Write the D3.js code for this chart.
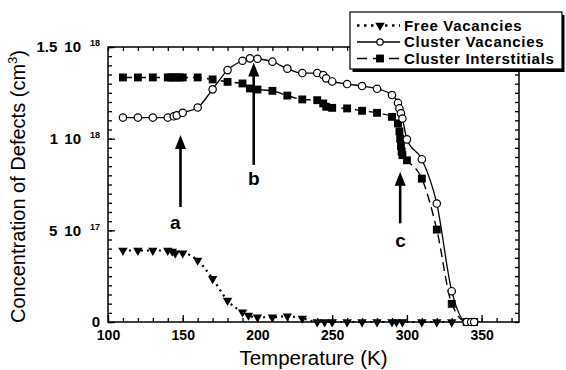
<!DOCTYPE html>
<html>
<head>
<meta charset="utf-8">
<script src="https://cdn.jsdelivr.net/npm/d3@7"></script>
<style>
body { margin: 0; background: #fff; }
svg { display: block; font-family: "Liberation Sans", Arial, sans-serif; }
</style>
</head>
<body>
<svg id="drawing_region"></svg>
<script>
// temperatures (K) and concentrations (units of 1e17 cm^-3)
var freeT = [110,120,130,140,143,145,150,160,170,180,190,194,200,210,220,230,240,245,250,260,270,280,290,293,297,310,320,330];
var freeV = [3.9,3.9,3.9,3.9,3.85,3.75,3.75,3.36,2.36,1.17,0.54,0.36,0.26,0.26,0.32,0.2,0,0,0,0,0,0,0,0,0,0,0,0];

var vacT = [110,120,130,140,144,146,150,160,170,180,190,195,200,210,220,230,240,244,246,250,260,270,280,290,294,295,296,297,300,310,320,330,340,343,345];
var vacV = [11.15,11.15,11.15,11.15,11.22,11.27,11.41,11.7,12.69,13.74,14.25,14.38,14.36,14.2,13.82,13.58,13.58,13.47,13.29,13.12,12.98,12.87,12.72,12.38,11.95,11.65,11.38,11.1,9.96,8.88,6.46,1.68,0,0,0];

var intT = [110,120,130,140,142,144,146,148,150,160,170,180,190,195,200,210,220,230,240,244,246,250,260,270,280,290,294,295,295.5,296,296.5,297,300,310,320,330,340,343,345];
var intV = [13.34,13.34,13.34,13.34,13.34,13.34,13.34,13.34,13.34,13.34,13.23,13.1,13.01,12.74,12.68,12.61,12.35,12.14,12.1,11.92,11.74,11.68,11.65,11.52,11.41,11.19,10.83,10.4,10.0,9.6,9.3,9.1,8.82,7.82,5.04,0.99,0,0,0];

var xMajor = [100,150,200,250,300,350];
var yMajor = [0,5,10,15];
var yTickMant = ['0','5','1','1.5'];
var yTickExp = ['','17','18','18'];

var seriesNames = ['Free Vacancies','Cluster Vacancies','Cluster Interstitials'];

// arrows a, b, c
var arrowLabel = ['a','b','c'];
var arrowT = [148.5,197.5,295.5];
var arrowTail = [6.27,8.57,5.38];
var arrowHead = [10.2,14.15,8.2];
var labelT = [145,197.5,295.8];
var labelV = [5.44,7.85,4.47];

var margin = { top: 47, right: 47, bottom: 48, left: 108 };
var width = 566 - margin.left - margin.right;
var height = 370 - margin.top - margin.bottom;

var root = d3.select('#drawing_region')
    .attr('width', 566)
    .attr('height', 370);

var svg = root.append('g')
    .attr('transform', 'translate(' + margin.left + ',' + margin.top + ')');

var xScale = d3.scaleLinear().domain([100, 375]).range([0, width]);
var yScale = d3.scaleLinear().domain([0, 15]).range([height, 0]);

// frame
svg.append('rect')
    .attr('width', width)
    .attr('height', height)
    .attr('fill', 'none')
    .attr('stroke', '#000')
    .attr('stroke-width', 1.5);

function styleAxis(g) {
    g.select('.domain').remove();
    g.selectAll('.tick line').attr('stroke', '#000').attr('stroke-width', 1.3);
}

// minor ticks
svg.append('g')
    .attr('transform', 'translate(0,' + height + ')')
    .call(d3.axisBottom(xScale).tickValues(d3.range(100, 371, 10)).tickSize(-4).tickFormat(''))
    .call(styleAxis);
svg.append('g')
    .call(d3.axisTop(xScale).tickValues(d3.range(100, 371, 10)).tickSize(-4).tickFormat(''))
    .call(styleAxis);
svg.append('g')
    .call(d3.axisLeft(yScale).tickValues(d3.range(0, 15.01, 0.5)).tickSize(-4).tickFormat(''))
    .call(styleAxis);
svg.append('g')
    .attr('transform', 'translate(' + width + ',0)')
    .call(d3.axisRight(yScale).tickValues(d3.range(0, 15.01, 0.5)).tickSize(-4).tickFormat(''))
    .call(styleAxis);

// major ticks + labels
var xAxis = svg.append('g')
    .attr('transform', 'translate(0,' + height + ')')
    .call(d3.axisBottom(xScale).tickValues(xMajor).tickSize(-7).tickPadding(8))
    .call(styleAxis);
xAxis.selectAll('text')
    .attr('font-size', 14).attr('font-weight', 'bold').attr('fill', '#000')
    .attr('font-family', '"Liberation Sans", Arial, sans-serif');

var yAxis = svg.append('g')
    .call(d3.axisLeft(yScale).tickValues(yMajor).tickSize(-7).tickPadding(8))
    .call(styleAxis);
yAxis.selectAll('text')
    .attr('font-size', 15).attr('font-weight', 'bold').attr('fill', '#000')
    .attr('font-family', '"Liberation Sans", Arial, sans-serif')
    .each(function(d, i) {
        var t = d3.select(this).text(yTickMant[i]);
        if (yTickExp[i]) {
            t.append('tspan').attr('dx', 7).text('10');
            t.append('tspan').attr('dx', 9).attr('dy', -6).attr('font-size', 9).text(yTickExp[i]);
        }
    });

// axis titles
svg.append('text')
    .attr('x', width / 2)
    .attr('y', height + 43)
    .attr('text-anchor', 'middle')
    .attr('font-size', 20.5)
    .text('Temperature (K)');

var yt = svg.append('text')
    .attr('transform', 'rotate(-90)')
    .attr('x', -height / 2 - 2)
    .attr('y', -margin.left + 25)
    .attr('text-anchor', 'middle')
    .attr('font-size', 20)
    .text('Concentration of Defects (cm');
yt.append('tspan').attr('dy', -8).attr('font-size', 13).text('3');
yt.append('tspan').attr('dy', 8).text(')');

var freeData = d3.zip(freeT, freeV);
var vacData = d3.zip(vacT, vacV);
var intData = d3.zip(intT, intV);

var line = d3.line()
    .x(d => xScale(d[0]))
    .y(d => yScale(d[1]))
    .curve(d3.curveMonotoneX);

svg.append('path').datum(freeData)
    .attr('d', line).attr('fill', 'none').attr('stroke', '#000')
    .attr('stroke-width', 2.2).attr('stroke-dasharray', '2,4');
svg.append('path').datum(intData)
    .attr('d', line).attr('fill', 'none').attr('stroke', '#000')
    .attr('stroke-width', 1.4).attr('stroke-dasharray', '9,5');
svg.append('path').datum(vacData)
    .attr('d', line).attr('fill', 'none').attr('stroke', '#000')
    .attr('stroke-width', 1.3);

var tri = d3.symbol().type(d3.symbolTriangle).size(38);
var sq = d3.symbol().type(d3.symbolSquare).size(62);

svg.selectAll('.tri')
    .data(freeData)
    .enter()
    .append('path')
    .attr('class', 'tri')
    .attr('d', tri)
    .attr('transform', d => 'translate(' + xScale(d[0]) + ',' + yScale(d[1]) + ') rotate(180)')
    .attr('fill', '#000');

svg.selectAll('.sq')
    .data(intData)
    .enter()
    .append('path')
    .attr('class', 'sq')
    .attr('d', sq)
    .attr('transform', d => 'translate(' + xScale(d[0]) + ',' + yScale(d[1]) + ')')
    .attr('fill', '#000');

svg.selectAll('.circ')
    .data(vacData)
    .enter()
    .append('circle')
    .attr('class', 'circ')
    .attr('cx', d => xScale(d[0]))
    .attr('cy', d => yScale(d[1]))
    .attr('r', 3.7)
    .attr('fill', '#fff')
    .attr('stroke', '#000')
    .attr('stroke-width', 1.2);

// arrows
arrowLabel.forEach(function(lab, i) {
    var ax = xScale(arrowT[i]);
    var y0 = yScale(arrowTail[i]);
    var y1 = yScale(arrowHead[i]);
    svg.append('line')
        .attr('x1', ax).attr('x2', ax)
        .attr('y1', y0).attr('y2', y1 + 10)
        .attr('stroke', '#000').attr('stroke-width', 2.6);
    svg.append('path')
        .attr('d', 'M' + ax + ',' + y1 + 'L' + (ax - 5.5) + ',' + (y1 + 14) + 'L' + (ax + 5.5) + ',' + (y1 + 14) + 'Z')
        .attr('fill', '#000');
    svg.append('text')
        .attr('x', xScale(labelT[i]))
        .attr('y', yScale(labelV[i]))
        .attr('dy', '0.35em')
        .attr('text-anchor', 'middle')
        .attr('font-size', 19)
        .attr('font-weight', 'bold')
        .text(lab);
});

// legend
var leg = root.append('g').attr('transform', 'translate(350,12)');
leg.append('rect').attr('x', 2.5).attr('y', 3).attr('width', 212).attr('height', 57).attr('fill', '#000');
leg.append('rect').attr('x', 0).attr('y', 0).attr('width', 212).attr('height', 57)
    .attr('fill', '#fff').attr('stroke', '#000').attr('stroke-width', 1.2);

var rowY = [13.5, 30, 46.5];
var dashes = ['2.5,4.5', null, '10,6'];
var widths = [2.4, 1.3, 1.4];
seriesNames.forEach(function(name, i) {
    var l = leg.append('line')
        .attr('x1', 7).attr('x2', 50)
        .attr('y1', rowY[i]).attr('y2', rowY[i])
        .attr('stroke', '#000').attr('stroke-width', widths[i]);
    if (dashes[i]) l.attr('stroke-dasharray', dashes[i]);
    if (i === 0) {
        leg.append('path').attr('d', tri).attr('transform', 'translate(30,' + rowY[i] + ') rotate(180)').attr('fill', '#000');
    } else if (i === 1) {
        leg.append('circle').attr('cx', 30).attr('cy', rowY[i]).attr('r', 3.2)
            .attr('fill', '#fff').attr('stroke', '#000').attr('stroke-width', 1.2);
    } else {
        leg.append('path').attr('d', sq).attr('transform', 'translate(30,' + rowY[i] + ')').attr('fill', '#000');
    }
    leg.append('text')
        .attr('x', 54)
        .attr('y', rowY[i])
        .attr('dy', '0.36em')
        .attr('font-size', 15)
        .attr('letter-spacing', 0.7)
        .attr('font-weight', 'bold')
        .text(name);
});
</script>
</body>
</html>
